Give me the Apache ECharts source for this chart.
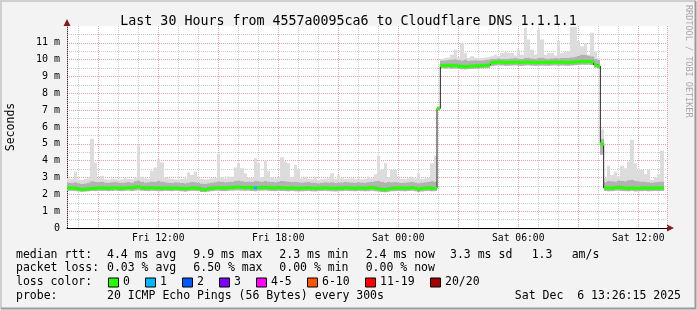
<!DOCTYPE html>
<html><head><meta charset="utf-8">
<script src="https://cdn.jsdelivr.net/npm/echarts@6/dist/echarts.min.js"></script>
<style>html,body{margin:0;padding:0;background:#f3f3f3}#c{width:697px;height:310px}</style>
</head><body><div id="c"></div>
<script>
// ---------- data ----------
const titleText = 'Last 30 Hours from 4557a0095ca6 to Cloudflare DNS 1.1.1.1';
const startHour = 7.4375;      // Fri 07:26:15, hours since Fri 00:00
const stepHours = 1 / 6;       // 10-minute bins
const dayNames = ['Fri', 'Sat'];
const yUnit = ' m';

const median = [
2.38,2.37,2.36,2.32,2.30,2.31,2.33,2.35,2.36,2.37,
2.38,2.37,2.36,2.38,2.39,2.37,2.36,2.38,2.40,2.39,
2.42,2.46,2.40,2.38,2.37,2.39,2.38,2.37,2.36,2.38,
2.37,2.36,2.38,2.37,2.35,2.33,2.36,2.38,2.37,2.36,
2.30,2.29,2.33,2.37,2.38,2.40,2.38,2.37,2.39,2.41,
2.42,2.44,2.42,2.40,2.41,2.39,2.38,2.40,2.41,2.42,
2.40,2.39,2.38,2.40,2.39,2.38,2.37,2.38,2.36,2.35,
2.36,2.37,2.38,2.36,2.35,2.37,2.38,2.39,2.37,2.36,
2.35,2.36,2.37,2.40,2.38,2.37,2.36,2.38,2.37,2.36,
2.38,2.40,2.36,2.34,2.30,2.28,2.33,2.36,2.37,2.38,
2.37,2.36,2.38,2.40,2.36,2.30,2.35,2.37,2.38,2.36,2.37,
7.10,
9.66,9.65,9.67,9.64,9.66,9.63,9.60,9.58,
9.60,9.62,9.64,9.63,9.65,9.66,9.68,
9.82,9.84,9.86,9.85,9.83,9.84,9.85,9.86,9.84,9.83,9.85,9.86,9.84,9.83,9.84,9.85,
9.84,9.83,9.85,9.86,9.84,9.85,9.84,9.83,9.85,9.87,9.88,9.90,9.89,9.90,9.88,
9.70,9.62,
5.00,
2.38,2.36,2.37,2.40,2.42,2.39,2.37,2.36,2.38,2.35,2.36,2.37,2.38,2.36,2.37,2.38,2.37,2.38
];
const pingMin = [
2.20,2.21,2.19,2.17,2.15,2.16,2.18,2.20,2.19,2.21,
2.20,2.21,2.19,2.20,2.22,2.20,2.19,2.21,2.22,2.20,
2.22,2.25,2.21,2.20,2.19,2.21,2.20,2.18,2.19,2.21,
2.20,2.19,2.21,2.20,2.18,2.16,2.19,2.21,2.20,2.19,
2.14,2.13,2.16,2.19,2.21,2.22,2.20,2.19,2.21,2.22,
2.23,2.24,2.22,2.21,2.22,2.20,2.18,2.21,2.22,2.23,
2.21,2.20,2.19,2.21,2.20,2.19,2.18,2.20,2.18,2.17,
2.18,2.19,2.20,2.18,2.17,2.19,2.20,2.21,2.19,2.18,
2.17,2.18,2.19,2.21,2.20,2.19,2.18,2.20,2.19,2.18,
2.19,2.21,2.18,2.16,2.13,2.12,2.15,2.18,2.19,2.20,
2.19,2.18,2.20,2.21,2.18,2.13,2.17,2.19,2.20,2.18,2.19,
7.02,
9.48,9.47,9.49,9.46,9.47,9.45,9.43,9.42,
9.44,9.45,9.47,9.46,9.48,9.49,9.50,
9.62,9.64,9.66,9.65,9.63,9.64,9.65,9.66,9.64,9.63,9.65,9.66,9.64,9.63,9.64,9.65,
9.64,9.63,9.65,9.66,9.64,9.65,9.64,9.63,9.65,9.67,9.68,9.70,9.69,9.70,9.68,
9.52,9.48,
4.35,
2.20,2.18,2.19,2.21,2.23,2.20,2.19,2.18,2.20,2.17,2.18,2.19,2.20,2.18,2.19,2.20,2.19,2.20
];
const pingQ3 = [
2.70,2.68,2.72,2.66,2.62,2.65,2.70,2.78,2.74,2.72,
2.75,2.70,2.68,2.72,2.74,2.70,2.69,2.71,2.73,2.70,
2.78,2.82,2.74,2.70,2.72,2.76,2.74,2.80,2.76,2.72,
2.70,2.68,2.72,2.70,2.69,2.66,2.70,2.74,2.72,2.70,
2.64,2.62,2.66,2.70,2.72,2.78,2.74,2.72,2.74,2.76,
2.80,2.82,2.78,2.74,2.76,2.74,2.80,2.78,2.76,2.80,
2.76,2.74,2.72,2.76,2.80,2.78,2.76,2.74,2.76,2.72,
2.70,2.72,2.74,2.70,2.69,2.66,2.70,2.72,2.70,2.72,
2.68,2.70,2.71,2.74,2.72,2.70,2.69,2.72,2.70,2.69,
2.72,2.75,2.78,2.80,2.74,2.70,2.74,2.72,2.73,2.70,
2.69,2.70,2.72,2.74,2.70,2.66,2.70,2.72,2.74,2.78,2.76,
7.18,
9.95,9.96,9.98,10.00,10.02,9.98,9.96,10.00,
9.94,9.96,9.97,9.95,9.96,9.98,9.99,
10.04,10.06,10.08,10.06,10.05,10.06,10.08,10.10,10.06,10.05,10.10,10.12,10.08,10.06,10.10,10.12,
10.08,10.06,10.08,10.10,10.08,10.10,10.12,10.10,10.14,10.18,10.22,10.30,10.28,10.24,10.20,
10.05,9.98,
5.30,
2.72,2.80,2.78,2.76,2.82,2.80,2.78,2.84,2.86,2.80,2.78,2.76,2.74,2.72,2.70,2.72,2.74,2.76
];
const pingMax = [
2.95,2.90,3.35,2.88,2.85,2.92,2.95,5.30,3.90,2.95,
3.10,2.90,2.88,2.92,2.90,2.88,2.90,2.95,2.92,2.90,
3.00,4.90,3.05,2.95,2.92,3.40,3.60,4.10,3.90,3.00,
2.95,2.92,2.90,2.88,2.92,2.95,3.30,3.15,3.35,2.95,
2.92,2.88,2.90,2.95,2.98,4.40,3.00,2.95,3.05,3.05,
3.60,3.85,3.55,3.25,3.00,2.98,4.15,3.85,3.00,4.00,
3.40,3.00,2.95,3.00,4.20,3.95,3.85,3.00,3.75,3.50,
2.95,3.05,2.92,2.90,3.05,2.85,2.90,2.92,2.95,3.25,
2.92,3.15,2.95,2.90,2.92,2.95,2.90,2.92,2.90,2.92,
3.05,2.95,3.20,4.30,3.45,3.85,3.00,3.45,3.45,2.95,
2.92,2.90,2.95,3.05,2.95,3.25,2.92,2.95,3.00,3.85,4.30,
7.25,
10.05,10.10,10.12,10.30,10.60,10.15,11.00,10.40,
10.10,10.20,10.12,10.10,10.10,10.12,10.15,
10.20,10.30,10.22,10.40,10.45,10.40,10.40,10.25,10.60,10.30,11.90,11.20,10.60,10.30,11.80,11.20,
10.30,10.40,10.40,10.25,11.10,10.40,10.50,10.50,11.95,11.95,11.10,10.80,11.00,10.30,11.60,
10.50,10.10,
5.85,
2.95,3.70,3.15,3.35,3.05,3.70,3.55,3.95,5.24,3.85,3.45,3.45,3.20,3.45,2.85,3.00,3.20,4.60
];
// lost pings (out of 20) per bin
const lostPings = new Array(median.length).fill(0);
lostPings[56] = 1;

const lossLabels = ['0', '1', '2', '3', '4-5', '6-10', '11-19', '20/20'];
const lossColors = ['#26ff00', '#00b8ff', '#0059ff', '#7e00ff', '#ff00ff', '#ff5500', '#ff0000', '#a10000'];
const lossUpper = [0, 1, 2, 3, 5, 10, 19, 20];

const rowLabels = ['median rtt:', 'packet loss:', 'loss color:', 'probe:'];
const rttStats = ['4.4 ms avg', '9.9 ms max', '2.3 ms min', '2.4 ms now', '3.3 ms sd', '1.3', 'am/s'];
const lossStats = ['0.03 % avg', '6.50 % max', '0.00 % min', '0.00 % now'];
const probeText = '20 ICMP Echo Pings (56 Bytes) every 300s';
const stampText = 'Sat Dec  6 13:26:15 2025';
const creditText = 'RRDTOOL / TOBI OETIKER';

// ---------- styles ----------
const MONO = '"DejaVu Sans Mono", monospace';
const SMOKE_DARK = '#b2b2b2', SMOKE_LIGHT = '#dcdcdc';
const BAND_HALF_PX = 1.6;
const rttX = [107, 193.3, 279.3, 365.7, 450, 531.7, 571.7];
const lossX = [107, 193.3, 279.3, 365.7];
const rowY = [255, 268.5, 282.5, 296.5];

const n = median.length;
const tOf = i => startHour + i * stepHours;
const smokeData = median.map((m, i) => [tOf(i), pingMin[i], pingQ3[i], pingMax[i]]);
const bandData = median.map((m, i) => [tOf(i), m, lostPings[i]]);
const medLine = median.map((m, i) => [tOf(i), m]);
medLine.push([tOf(n), median[n - 1]]);

function lossIdx(l) { for (let k = 0; k < lossUpper.length; k++) if (l <= lossUpper[k]) return k; return lossUpper.length - 1; }

const chart = echarts.init(document.getElementById('c'), null, { renderer: 'canvas' });

const texts = [];
function txt(x, y, s, extra) {
  texts.push(Object.assign({ type: 'text', x: x, y: y, silent: true,
    style: { text: s, font: '11.5px ' + MONO, fill: '#000', textVerticalAlign: 'middle', textAlign: 'left' } }, extra || {}));
}
rowLabels.forEach((s, r) => txt(16, rowY[r], s));
rttStats.forEach((s, k) => txt(rttX[k], rowY[0], s));
lossStats.forEach((s, k) => txt(lossX[k], rowY[1], s));
let lx = 108;
lossLabels.forEach((s, k) => {
  texts.push({ type: 'rect', silent: true, shape: { x: lx + 0.5, y: rowY[2] - 4.5, width: 10, height: 9 },
    style: { fill: lossColors[k], stroke: '#000', lineWidth: 1 } });
  txt(lx + 15, rowY[2], s);
  lx += 30 + 7 * s.length;
});
txt(107, rowY[3], probeText);
texts.push({ type: 'text', x: 681, y: rowY[3], silent: true,
  style: { text: stampText, font: '11.5px ' + MONO, fill: '#000', textVerticalAlign: 'middle', textAlign: 'right' } });
texts.push({ type: 'text', x: 688, y: 5, rotation: -Math.PI / 2, silent: true,
  style: { text: creditText, font: '8.5px ' + MONO, fill: '#a8a8a8', textVerticalAlign: 'middle', textAlign: 'left' } });
// frame + arrows
texts.push({ type: 'polyline', silent: true, shape: { points: [[1, 309], [1, 1], [696, 1]] }, style: { stroke: '#cfcfcf', lineWidth: 2, fill: null } });
texts.push({ type: 'polyline', silent: true, shape: { points: [[1, 308.5], [695.5, 308.5], [695.5, 1]] }, style: { stroke: '#9a9a9a', lineWidth: 2, fill: null } });
texts.push({ type: 'polygon', silent: true, shape: { points: [[667, 224.5], [674, 228], [667, 231.5]] }, style: { fill: '#8b1a1a' } });
texts.push({ type: 'polygon', silent: true, shape: { points: [[63.5, 26], [67, 19], [70.5, 26]] }, style: { fill: '#8b1a1a' } });

const dotted = [1, 1];
function hourAxis(iv, color, z) {
  return { type: 'value', min: startHour, max: startHour + 30, minInterval: iv, maxInterval: iv, z: z,
    axisLine: { show: false }, axisTick: { show: false }, axisLabel: { show: false },
    splitLine: { show: true, lineStyle: { color: color, type: dotted, width: 1 } } };
}

chart.setOption({
  animation: false,
  backgroundColor: '#f3f3f3',
  title: { text: titleText, left: 'center', top: 10,
    textStyle: { fontFamily: MONO, fontSize: 13.3, fontWeight: 'normal', color: '#000' } },
  grid: { left: 67, right: 30, top: 26, bottom: 82, show: true, backgroundColor: '#ffffff', borderWidth: 0,
    containLabel: false, outerBoundsMode: 'none' },
  xAxis: [
    { type: 'value', min: startHour, max: startHour + 30, minInterval: 6, maxInterval: 6, z: 3,
      axisLine: { show: true, lineStyle: { color: '#000', width: 1 } }, axisTick: { show: false },
      splitLine: { show: false },
      axisLabel: { show: true, margin: 5, fontFamily: MONO, fontSize: 9.7, color: '#000', showMinLabel: false, showMaxLabel: false,
        formatter: v => {
          if (Math.abs(v - Math.round(v)) > 1e-6) return '';
          const d = dayNames[Math.floor(v / 24)] || '';
          const h = Math.round(v) % 24;
          return d + ' ' + String(h).padStart(2, '0') + ':00';
        } } },
    hourAxis(1, '#cccccc', 0),
    hourAxis(3, '#e6a3a3', 1)
  ],
  yAxis: { type: 'value', min: 0, max: 12, interval: 1, name: 'Seconds', nameLocation: 'middle', nameGap: 50,
    nameTextStyle: { fontFamily: MONO, fontSize: 11.5, color: '#000' },
    axisLine: { show: true, lineStyle: { color: '#333', width: 1 } }, axisTick: { show: false },
    axisLabel: { margin: 7, fontFamily: MONO, fontSize: 10, color: '#000', showMaxLabel: false,
      formatter: v => v === 0 ? '0' : (v >= 12 ? '' : v + yUnit) },
    splitLine: { show: true, showMaxLine: false, lineStyle: { color: '#e6a3a3', type: dotted } },
    minorTick: { show: false, splitNumber: 2 },
    minorSplitLine: { show: true, lineStyle: { color: '#cccccc', type: dotted } } },
  graphic: texts,
  series: [
    { type: 'custom', name: 'smoke', xAxisIndex: 0, z: 2, clip: true, data: smokeData,
      encode: { x: 0, y: [1, 2, 3] },
      renderItem: (params, api) => {
        const t = api.value(0), lo = api.value(1), q = api.value(2), hi = api.value(3);
        const a = api.coord([t, hi]), b = api.coord([t + stepHours, q]), c = api.coord([t, lo]);
        const x0 = Math.round(a[0]), x1 = Math.round(b[0]);
        return { type: 'group', children: [
          { type: 'rect', shape: { x: x0, y: a[1], width: x1 - x0, height: b[1] - a[1] }, style: { fill: SMOKE_LIGHT } },
          { type: 'rect', shape: { x: x0, y: b[1], width: x1 - x0, height: c[1] - b[1] }, style: { fill: SMOKE_DARK } }
        ] };
      } },
    { type: 'line', name: 'median', xAxisIndex: 0, z: 3, step: 'end', symbol: 'none', data: medLine,
      lineStyle: { color: '#202020', width: 1 } },
    { type: 'custom', name: 'loss band', xAxisIndex: 0, z: 4, clip: true, data: bandData,
      encode: { x: 0, y: 1 },
      renderItem: (params, api) => {
        const t = api.value(0), m = api.value(1), l = api.value(2);
        const a = api.coord([t, m]), b = api.coord([t + stepHours, m]);
        const x0 = Math.round(a[0]), x1 = Math.round(b[0]);
        return { type: 'rect', shape: { x: x0, y: a[1] - BAND_HALF_PX, width: x1 - x0, height: 2 * BAND_HALF_PX },
          style: { fill: lossColors[lossIdx(l)] } };
      } }
  ]
});
</script></body></html>
